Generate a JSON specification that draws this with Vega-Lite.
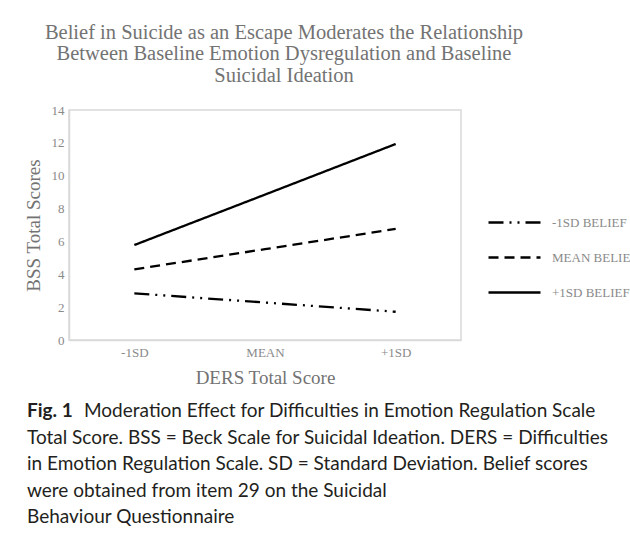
{
  "$schema": "https://vega.github.io/schema/vega-lite/v6.json",
  "background": "white",
  "padding": {"left": 23, "top": 21, "right": 0, "bottom": 0},
  "config": {
    "view": {"stroke": "#d9d9d9", "strokeWidth": 1.5},
    "font": "Liberation Serif"
  },
  "spacing": 14,
  "vconcat": [
    {
      "width": 392,
      "height": 230,
      "title": {
        "text": ["Belief in Suicide as an Escape Moderates the Relationship", "Between Baseline Emotion Dysregulation and Baseline", "Suicidal Ideation"],
        "font": "Liberation Serif",
        "fontSize": 20.5,
        "fontWeight": "normal",
        "color": "#737373",
        "lineHeight": 21.5,
        "anchor": "middle",
        "frame": "group",
        "dx": 19,
        "offset": 18
      },
      "data": {
        "values": [
          {"belief": "+1SD BELIEF", "ders": "-1SD", "bss": 5.78},
          {"belief": "+1SD BELIEF", "ders": "MEAN", "bss": 8.85},
          {"belief": "+1SD BELIEF", "ders": "+1SD", "bss": 11.93},
          {"belief": "MEAN BELIEF", "ders": "-1SD", "bss": 4.3},
          {"belief": "MEAN BELIEF", "ders": "MEAN", "bss": 5.53},
          {"belief": "MEAN BELIEF", "ders": "+1SD", "bss": 6.76},
          {"belief": "-1SD BELIEF", "ders": "-1SD", "bss": 2.84},
          {"belief": "-1SD BELIEF", "ders": "MEAN", "bss": 2.28},
          {"belief": "-1SD BELIEF", "ders": "+1SD", "bss": 1.72}
        ]
      },
      "mark": {"type": "line", "color": "#000000", "strokeWidth": 2.3},
      "encoding": {
        "x": {
          "field": "ders",
          "type": "ordinal",
          "sort": ["-1SD", "MEAN", "+1SD"],
          "scale": {"type": "point", "padding": 0.5},
          "axis": {
            "title": "DERS Total Score",
            "titleFont": "Liberation Serif",
            "titleFontSize": 19,
            "titleFontWeight": "normal",
            "titleColor": "#737373",
            "titlePadding": 9,
            "labelFont": "Liberation Serif",
            "labelFontSize": 13,
            "labelColor": "#8a8a8a",
            "labelAngle": 0,
            "labelPadding": 6,
            "ticks": false,
            "domainColor": "#d9d9d9",
            "domainWidth": 1.5
          }
        },
        "y": {
          "field": "bss",
          "type": "quantitative",
          "scale": {"domain": [0, 14]},
          "axis": {
            "title": "BSS Total Scores",
            "titleFont": "Liberation Serif",
            "titleFontSize": 19,
            "titleFontWeight": "normal",
            "titleColor": "#737373",
            "titlePadding": 8,
            "labelFont": "Liberation Serif",
            "labelFontSize": 13,
            "labelColor": "#8a8a8a",
            "labelPadding": 5,
            "values": [0, 2, 4, 6, 8, 10, 12, 14],
            "ticks": false,
            "grid": false,
            "domainColor": "#d9d9d9",
            "domainWidth": 1.5
          }
        },
        "strokeDash": {
          "field": "belief",
          "type": "nominal",
          "scale": {
            "domain": ["-1SD BELIEF", "MEAN BELIEF", "+1SD BELIEF"],
            "range": [[15, 6, 2, 6, 2, 6], [10, 6], [1, 0]]
          },
          "legend": {
            "title": null,
            "orient": "none",
            "legendX": 418,
            "legendY": 85,
            "labelFont": "Liberation Serif",
            "labelFontSize": 13,
            "labelColor": "#8a8a8a",
            "labelOffset": 10,
            "labelLimit": 300,
            "symbolType": "stroke",
            "symbolSize": 2704,
            "symbolStrokeWidth": 2.5,
            "symbolStrokeColor": "#000000",
            "rowPadding": -7
          }
        }
      }
    },
    {
      "width": 600,
      "height": 106,
      "view": {"stroke": null},
      "data": {
        "values": [
          {"line": 0, "part": "label", "text": "Fig. 1"},
          {"line": 0, "part": "first", "text": "Moderation Effect for Difficulties in Emotion Regulation Scale"},
          {"line": 1, "part": "body", "text": "Total Score. BSS = Beck Scale for Suicidal Ideation. DERS = Difficulties"},
          {"line": 2, "part": "body", "text": "in Emotion Regulation Scale. SD = Standard Deviation. Belief scores"},
          {"line": 3, "part": "body", "text": "were obtained from item 29 on the Suicidal"},
          {"line": 4, "part": "body", "text": "Behaviour Questionnaire"}
        ]
      },
      "encoding": {
        "x": {"datum": 0, "type": "quantitative", "scale": {"domain": [0, 1]}, "axis": null},
        "y": {"field": "line", "type": "ordinal", "scale": {"type": "point", "padding": 0}, "axis": null},
        "text": {"field": "text"}
      },
      "layer": [
        {
          "transform": [{"filter": "datum.part === 'label'"}],
          "mark": {"type": "text", "align": "left", "baseline": "middle", "font": "Lato", "fontSize": 19, "fontWeight": "bold", "color": "#231f20", "dx": -42}
        },
        {
          "transform": [{"filter": "datum.part === 'first'"}],
          "mark": {"type": "text", "align": "left", "baseline": "middle", "font": "Lato", "fontSize": 19, "color": "#231f20", "dx": 15}
        },
        {
          "transform": [{"filter": "datum.part === 'body'"}],
          "mark": {"type": "text", "align": "left", "baseline": "middle", "font": "Lato", "fontSize": 19, "color": "#231f20", "dx": -42}
        }
      ]
    }
  ]
}
